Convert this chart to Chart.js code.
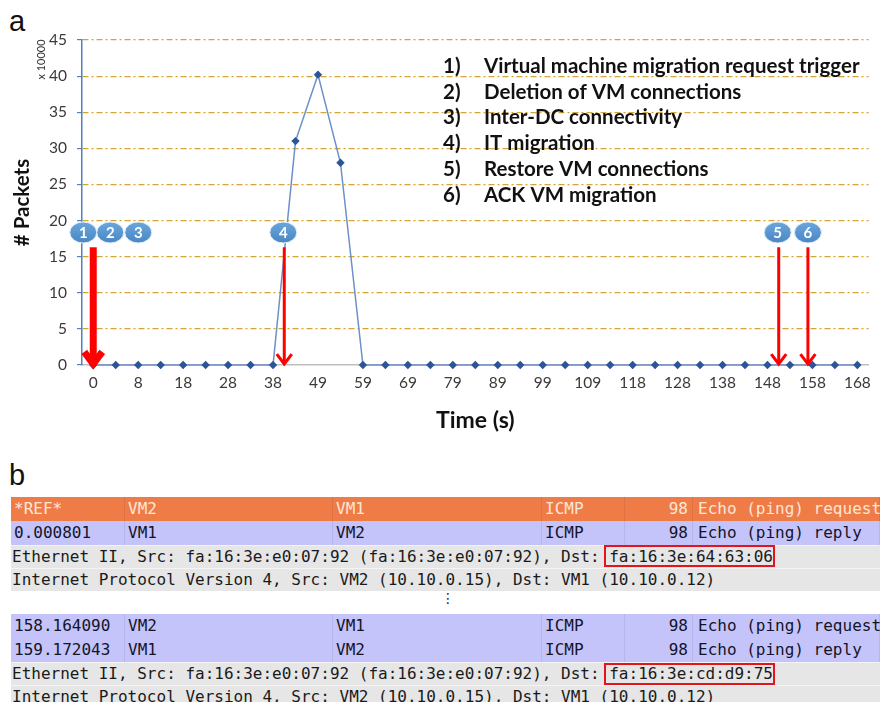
<!DOCTYPE html>
<html>
<head>
<meta charset="utf-8">
<script src="https://cdn.jsdelivr.net/npm/chart.js@4.4.1/dist/chart.umd.min.js"></script>
<style>
  body { margin: 0; background: #fff; width: 880px; height: 702px; overflow: hidden; position: relative; }
  .panel-label { position: absolute; left: 9px; font-family: 'Liberation Sans', Arial, sans-serif; font-size: 29px; line-height: 1; color: #111; }
  #chart-wrap { position: absolute; left: 0; top: 0; width: 880px; height: 455px; }
  .row { position: absolute; left: 11px; width: 869px; font-family: 'DejaVu Sans Mono', monospace; font-size: 16px; white-space: nowrap; overflow: hidden; box-sizing: border-box; }
  .row.head { background: #ef7b47; color: #fde6d6; }
  .row.pkt { background: #c4c4fb; color: #141428; }
  .row.detail { background: #e6e6e6; color: #1a1a1a; border-top: 1px solid #f4f4f4; padding-left: 1px; }
  .cell { position: absolute; top: 0; height: 100%; box-sizing: border-box; padding-left: 3px; border-right: 1px solid rgba(0,0,0,0.07); }
  .cell.num { text-align: right; padding-right: 4px; padding-left: 0; }
  .mark { position: absolute; border: 2px solid #e5141a; box-sizing: border-box; }
  .dots { position: absolute; left: 441px; top: 590px; font-family: 'DejaVu Sans', sans-serif; font-size: 14px; color: #222; }
</style>
</head>
<body>
<div class="panel-label" style="top:7px">a</div>
<div id="chart-wrap"><canvas id="myChart" width="880" height="455"></canvas></div>
<div class="panel-label" style="top:461px">b</div>
<div id="table"></div>
<div class="dots">&#8942;</div>
<script>
// time axis (s), one point every ~5 s
const timeLabels = [0, 4, 8, 13, 18, 23, 28, 33, 38, 44, 49, 54, 59, 64, 69, 74, 79, 84, 89, 94,
  99, 104, 109, 113, 118, 123, 128, 133, 138, 143, 148, 153, 158, 163, 168];
// packets, in units of 10000
const packets = [0, 0, 0, 0, 0, 0, 0, 0, 0, 31, 40.2, 28, 0, 0, 0, 0, 0, 0, 0, 0,
  0, 0, 0, 0, 0, 0, 0, 0, 0, 0, 0, 0, 0, 0, 0];
const yTicks = [0, 5, 10, 15, 20, 25, 30, 35, 40, 45];

const eventNames = ['Virtual machine migration request trigger', 'Deletion of VM connections',
  'Inter-DC connectivity', 'IT migration', 'Restore VM connections', 'ACK VM migration'];
const eventTimes = [0, 0, 0, 41, 150.5, 157];

// capture rows for panel b
const pktCols = ['*REF*', 'VM2', 'VM1', 'ICMP', '98', 'Echo (ping) request'];
const pktRowsA = [['0.000801', 'VM1', 'VM2', 'ICMP', '98', 'Echo (ping) reply']];
const pktRowsB = [['158.164090', 'VM2', 'VM1', 'ICMP', '98', 'Echo (ping) request'],
  ['159.172043', 'VM1', 'VM2', 'ICMP', '98', 'Echo (ping) reply']];
const dstMacs = ['fa:16:3e:64:63:06', 'fa:16:3e:cd:d9:75'];

function timeToIndex(t) {
  for (let i = 0; i < timeLabels.length - 1; i++) {
    if (t >= timeLabels[i] && t <= timeLabels[i + 1]) {
      return i + (t - timeLabels[i]) / (timeLabels[i + 1] - timeLabels[i]);
    }
  }
  return timeLabels.length - 1;
}

function drawArrow(ctx, px, top, bottom, w, head) {
  ctx.save();
  ctx.strokeStyle = '#ff0000';
  ctx.lineWidth = w;
  ctx.lineCap = 'butt';
  ctx.lineJoin = 'miter';
  ctx.beginPath();
  ctx.moveTo(px, top);
  ctx.lineTo(px, bottom - 3);
  ctx.stroke();
  ctx.beginPath();
  ctx.moveTo(px - head, bottom - head * 1.45);
  ctx.lineTo(px, bottom - 1);
  ctx.lineTo(px + head, bottom - head * 1.45);
  ctx.stroke();
  ctx.restore();
}

function drawBadge(ctx, cx, cy, text) {
  ctx.save();
  const g = ctx.createLinearGradient(0, cy - 10, 0, cy + 10);
  g.addColorStop(0, '#6aa6dc');
  g.addColorStop(1, '#4a87c4');
  ctx.beginPath();
  ctx.ellipse(cx, cy, 13.5, 10.5, 0, 0, Math.PI * 2);
  ctx.fillStyle = g;
  ctx.fill();
  ctx.lineWidth = 1;
  ctx.strokeStyle = '#e8f0fa';
  ctx.stroke();
  ctx.fillStyle = '#fff';
  ctx.font = 'bold 15px Lato';
  ctx.textAlign = 'center';
  ctx.textBaseline = 'middle';
  ctx.fillText(text, cx, cy + 1);
  ctx.restore();
}

const annotate = {
  id: 'annotate',
  afterDatasetsDraw(chart) {
    const { ctx, chartArea, scales: { x, y } } = chart;
    // scale note
    ctx.save();
    ctx.translate(41, y.getPixelForValue(42.3));
    ctx.rotate(-Math.PI / 2);
    ctx.font = '11px Lato';
    ctx.fillStyle = '#333';
    ctx.textAlign = 'center';
    ctx.textBaseline = 'middle';
    ctx.fillText('x 10000', 0, 0);
    ctx.restore();

    // event list
    ctx.save();
    ctx.font = 'bold 20.5px Lato';
    ctx.fillStyle = '#111';
    ctx.textBaseline = 'middle';
    const top = y.getPixelForValue(45) + 26;
    eventNames.forEach((name, i) => {
      const ty = top + i * 25.9;
      ctx.fillText((i + 1) + ')', chartArea.left + 361, ty);
      ctx.fillText(name, chartArea.left + 402, ty, 376);
    });
    ctx.restore();

    // arrows: 1-3 share one arrow
    const arrowTop = y.getPixelForValue(16.3);
    const base = y.getPixelForValue(0);
    const arrowTimes = [eventTimes[0], eventTimes[3], eventTimes[4], eventTimes[5]];
    arrowTimes.forEach((t, i) => {
      const px = x.getPixelForValue(timeToIndex(t));
      if (i === 0) drawArrow(ctx, px, arrowTop, base, 7, 9);
      else drawArrow(ctx, px, arrowTop, base, 3, 7.5);
    });

    // numbered badges
    const by = y.getPixelForValue(18.35);
    const shift = [-10, 17, 45, -1, -1, 0];
    eventTimes.forEach((t, i) => {
      const px = x.getPixelForValue(timeToIndex(t)) + shift[i];
      drawBadge(ctx, px, by, String(i + 1));
    });
  }
};

const golden = '#d5a532';
const ctxChart = document.getElementById('myChart').getContext('2d');
new Chart(ctxChart, {
  type: 'line',
  data: {
    labels: timeLabels,
    datasets: [{
      data: packets,
      borderColor: '#6d8fca',
      borderWidth: 1.5,
      pointStyle: 'rectRot',
      pointRadius: 4.2,
      pointBackgroundColor: '#2c5597',
      pointBorderColor: '#2c5597',
      pointBorderWidth: 0,
      tension: 0,
      clip: false
    }]
  },
  options: {
    responsive: false,
    animation: false,
    devicePixelRatio: 1,
    layout: { padding: { top: 40, right: 10, left: 0, bottom: 0 } },
    plugins: { legend: { display: false }, tooltip: { enabled: false } },
    scales: {
      x: {
        type: 'category',
        offset: true,
        afterFit: (s) => { s.height = 90; },
        grid: { display: false, drawTicks: false },
        border: { color: '#bfbfbf', width: 1.5 },
        ticks: {
          autoSkip: false,
          maxRotation: 0,
          padding: 9,
          color: '#3a3a3a',
          font: { family: 'Lato', size: 15.5 },
          callback: (v, i) => (i % 2 === 0 ? timeLabels[i] : '')
        },
        title: {
          display: true,
          text: 'Time (s)',
          color: '#111',
          font: { family: 'Lato', size: 23, weight: 'bold' },
          padding: { top: 8, bottom: 21 }
        }
      },
      y: {
        min: 0,
        max: 45,
        afterFit: (s) => { s.width = 82; },
        afterBuildTicks: (s) => { s.ticks = yTicks.map(v => ({ value: v })); },
        grid: {
          color: (c) => (c.tick && c.tick.value === 0 ? 'rgba(0,0,0,0)' : golden),
          lineWidth: 1.2,
          tickColor: '#4f81bd',
          tickBorderDash: [],
          tickLength: 5,
          tickWidth: 1.2
        },
        border: { color: '#4f81bd', width: 1.5, dash: [6, 3, 2, 3] },
        ticks: {
          padding: 10,
          color: '#3a3a3a',
          font: { family: 'Lato', size: 15.5 }
        },
        title: {
          display: true,
          text: '# Packets',
          color: '#111',
          font: { family: 'Lato', size: 20.5, weight: 'bold' },
          padding: { top: 10, bottom: 0 }
        }
      }
    }
  },
  plugins: [annotate]
});

// ---- panel b: capture excerpt ----
const table = document.getElementById('table');
const colEdges = [0, 114, 322, 531, 614, 682, 869];

function addPacketRow(cells, top, cls) {
  const row = document.createElement('div');
  row.className = 'row ' + cls;
  row.style.top = top + 'px';
  row.style.height = '24px';
  row.style.lineHeight = '24px';
  cells.forEach((txt, i) => {
    const c = document.createElement('div');
    c.className = 'cell' + (i === 4 ? ' num' : '');
    c.style.left = colEdges[i] + 'px';
    c.style.width = (colEdges[i + 1] - colEdges[i]) + 'px';
    if (i === 5) c.style.paddingLeft = '5px';
    c.textContent = txt;
    row.appendChild(c);
  });
  table.appendChild(row);
}

function addDetailRow(text, top) {
  const row = document.createElement('div');
  row.className = 'row detail';
  row.style.top = top + 'px';
  row.style.height = '23px';
  row.style.lineHeight = '22px';
  row.textContent = text;
  table.appendChild(row);
}

function addMark(top) {
  const m = document.createElement('div');
  m.className = 'mark';
  m.style.left = '604px';
  m.style.top = top + 'px';
  m.style.width = '171px';
  m.style.height = '22px';
  table.appendChild(m);
}

const ethPrefix = 'Ethernet II, Src: fa:16:3e:e0:07:92 (fa:16:3e:e0:07:92), Dst: ';
const ipLine = 'Internet Protocol Version 4, Src: VM2 (10.10.0.15), Dst: VM1 (10.10.0.12)';

addPacketRow(pktCols, 497, 'head');
pktRowsA.forEach((r, i) => addPacketRow(r, 521 + i * 24, 'pkt'));
addDetailRow(ethPrefix + dstMacs[0], 545);
addDetailRow(ipLine, 568);
addMark(545);

pktRowsB.forEach((r, i) => addPacketRow(r, 614 + i * 24, 'pkt'));
addDetailRow(ethPrefix + dstMacs[1], 662);
addDetailRow(ipLine, 685);
addMark(663);
</script>
</body>
</html>
